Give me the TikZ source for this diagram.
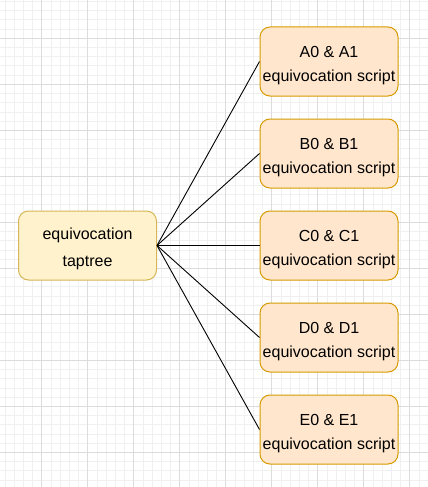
\documentclass[tikz,border=0pt]{standalone}
\usepackage{fontspec}
\setmainfont{Liberation Sans}
\definecolor{gridminor}{HTML}{F0F0F0}
\definecolor{gridmajor}{HTML}{DCDCDC}
\definecolor{orfill}{HTML}{FFE6CC}
\definecolor{ordraw}{HTML}{D79B00}
\definecolor{yefill}{HTML}{FFF2CC}
\definecolor{yedraw}{HTML}{D6B656}
\tikzset{
  minorline/.style={draw=gridminor, line width=0.8pt},
  majorline/.style={draw=gridmajor, line width=0.8pt},
  boxbase/.style={rectangle, rounded corners=10pt, minimum width=138pt, minimum height=69pt, inner sep=0pt, line width=1pt},
  obox/.style={boxbase, fill=orfill, draw=ordraw},
  ybox/.style={boxbase, fill=yefill, draw=yedraw},
  lbl/.style={anchor=base, inner sep=0pt, font=\fontsize{16pt}{18pt}\selectfont, text=black},
  conn/.style={draw=black, line width=0.9pt}
}
\begin{document}
\begin{tikzpicture}[x=1pt, y=-1pt]
\useasboundingbox (0,0) rectangle (428,487);
\fill[white] (0,0) rectangle (428,487);
% grid
\foreach \i in {0,...,46} {
  \pgfmathsetmacro\gx{4.9+9.2*\i}
  \draw[minorline] (\gx,0) -- (\gx,487);
}
\foreach \i in {0,...,52} {
  \pgfmathsetmacro\gy{1.5+9.2*\i}
  \draw[minorline] (0,\gy) -- (428,\gy);
}
\foreach \i in {0,...,8} {
  \pgfmathsetmacro\gx{41.7+46*\i}
  \draw[majorline] (\gx,0) -- (\gx,487);
}
\foreach \i in {0,...,10} {
  \pgfmathsetmacro\gy{38.3+46*\i}
  \draw[majorline] (0,\gy) -- (428,\gy);
}
% boxes
\node[ybox] (root) at (87.5,245.5) {};
\node[obox] (a) at (329,61.5) {};
\node[obox] (b) at (329,153.5) {};
\node[obox] (c) at (329,245.5) {};
\node[obox] (d) at (329,337.5) {};
\node[obox] (e) at (329,429.5) {};
% connectors
\foreach \t in {a,b,c,d,e} {
  \draw[conn] (root.east) -- (\t.west);
}
% labels
\node[lbl] (root1) at ([yshift=6.5pt]root.center) {equivocation};
\node[lbl] (root2) at ([yshift=-20.5pt]root.center) {taptree};
\node[lbl] (a1) at ([yshift=4.3pt]a.center) {A0 \& A1};
\node[lbl] (a2) at ([yshift=-20.2pt]a.center) {equivocation script};
\node[lbl] (b1) at ([yshift=4.3pt]b.center) {B0 \& B1};
\node[lbl] (b2) at ([yshift=-20.2pt]b.center) {equivocation script};
\node[lbl] (c1) at ([yshift=4.3pt]c.center) {C0 \& C1};
\node[lbl] (c2) at ([yshift=-20.2pt]c.center) {equivocation script};
\node[lbl] (d1) at ([yshift=4.3pt]d.center) {D0 \& D1};
\node[lbl] (d2) at ([yshift=-20.2pt]d.center) {equivocation script};
\node[lbl] (e1) at ([yshift=4.3pt]e.center) {E0 \& E1};
\node[lbl] (e2) at ([yshift=-20.2pt]e.center) {equivocation script};
\end{tikzpicture}
\end{document}
